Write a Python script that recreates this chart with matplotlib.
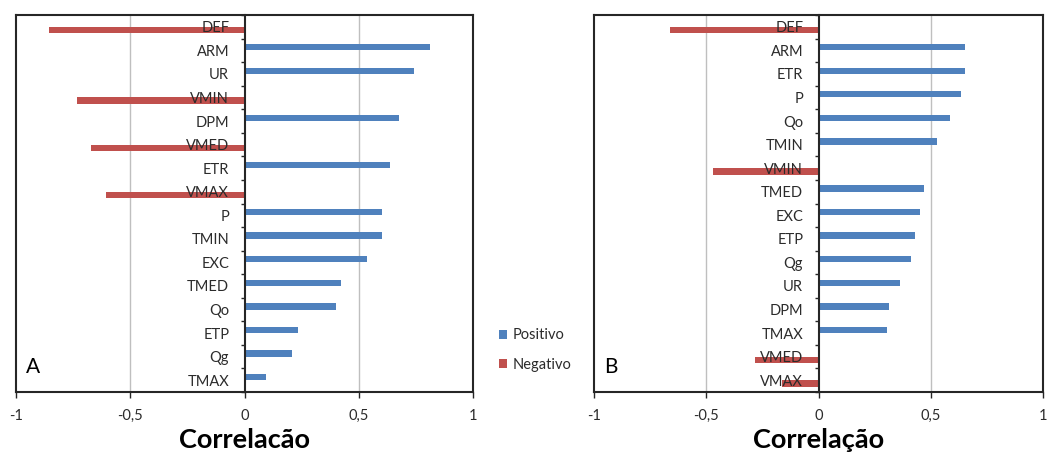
import numpy as np
import matplotlib
matplotlib.use("Agg")
import matplotlib.pyplot as plt

plt.rcParams['font.family'] = ['Lato', 'DejaVu Sans']

# panel A
labels_a = ["DEF", "ARM", "UR", "VMIN", "DPM", "VMED", "ETR", "VMAX",
            "P", "TMIN", "EXC", "TMED", "Qo", "ETP", "Qg", "TMAX"]
corr_a = [-0.856, 0.81, 0.741, -0.734, 0.677, -0.67, 0.635, -0.605,
          0.60, 0.60, 0.537, 0.422, 0.401, 0.232, 0.209, 0.095]

# panel B
labels_b = ["DEF", "ARM", "ETR", "P", "Qo", "TMIN", "VMIN", "TMED",
            "EXC", "ETP", "Qg", "UR", "DPM", "TMAX", "VMED", "VMAX"]
corr_b = [-0.662, 0.652, 0.652, 0.633, 0.587, 0.526, -0.47, 0.47,
          0.452, 0.43, 0.412, 0.365, 0.316, 0.304, -0.282, -0.163]

xticks = [-1, -0.5, 0, 0.5, 1]
xticklabels = ["-1", "-0,5", "0", "0,5", "1"]

BLUE = "#4F81BD"
RED = "#C0504D"
FRAME = "#262626"
TXT = "#2b2b2b"

W, H = 1048, 459
fig = plt.figure(figsize=(W / 100, H / 100), dpi=100)


def panel(rect, labels, corr, letter, xlabel):
    ax = fig.add_axes(rect)
    y = np.arange(len(labels))
    vals = np.array(corr)
    pos = vals > 0
    neg = ~pos
    off, h = 0.135, 0.27
    bp = ax.barh(y[pos] - off, vals[pos], height=h, color=BLUE, label="Positivo", zorder=1)
    bn = ax.barh(y[neg] + off, vals[neg], height=h, color=RED, label="Negativo", zorder=1)

    # grid behind the bars, frame line on the left
    for gx in (-0.5, 0.5):
        ax.axvline(gx, color="#BFBFBF", lw=1, zorder=0)
    ax.axvline(-1, color=FRAME, lw=1.5, clip_on=False, zorder=3)

    ax.set_xlim(-1, 1)
    ax.set_ylim(len(labels) - 0.5, -0.5)

    ax.spines['left'].set_position(('data', 0))
    for s in ax.spines.values():
        s.set_color(FRAME)
        s.set_linewidth(1.5)

    ax.set_yticks(y)
    ax.set_yticklabels(labels, fontsize=10.5, color=TXT)
    ax.set_yticks(np.arange(len(labels) + 1) - 0.5, minor=True)
    ax.tick_params(axis='y', which='major', length=0, pad=11)
    ax.tick_params(axis='y', which='minor', length=3, direction='out', color=FRAME, width=1)

    ax.set_xticks(xticks)
    ax.set_xticklabels(xticklabels, fontsize=10.5, color=TXT)
    ax.tick_params(axis='x', length=4, direction='out', color=FRAME, width=1, pad=8)

    ax.set_xlabel(xlabel, fontsize=19.5, fontweight='bold', color="black", labelpad=4)
    ax.text(0.022, 0.05, letter, transform=ax.transAxes, fontsize=15,
            color="black", va='baseline', ha='left')
    return bp, bn


def to_rect(x0, x1, y0, y1):
    return [x0 / W, 1 - y1 / H, (x1 - x0) / W, (y1 - y0) / H]


bp, bn = panel(to_rect(16, 473, 15, 392), labels_a, corr_a, "A", "Correlacão")
panel(to_rect(594, 1043, 15, 392), labels_b, corr_b, "B", "Correlação")

fig.legend([bp, bn], ["Positivo", "Negativo"], loc='center left',
           bbox_to_anchor=(486 / W, 1 - 350 / H), frameon=False,
           fontsize=10.5, handlelength=0.55, handleheight=0.55,
           handletextpad=0.35, labelspacing=1.05, labelcolor=TXT)

fig.savefig("out.png", dpi=100)
